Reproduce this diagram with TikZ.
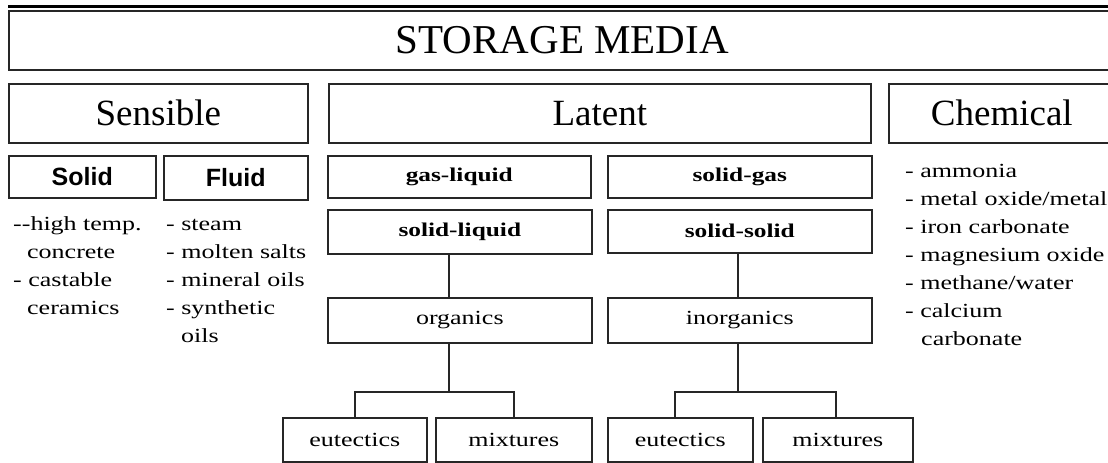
\documentclass[tikz,border=0pt]{standalone}
\usepackage{fontspec}
\setmainfont{Liberation Serif}
\newfontfamily\listfont[FakeStretch=1.3]{Liberation Serif}
\newfontfamily\tagfont{Liberation Sans}
\begin{document}
\begin{tikzpicture}[x=1pt,y=-1pt,
  frame/.style={draw=black!85, line width=1.6pt, inner sep=0pt, anchor=north west},
  wire/.style={draw=black!85, line width=1.6pt},
  bigtxt/.style={font=\fontsize{41}{45}\selectfont},
  headtxt/.style={font=\fontsize{37}{42}\selectfont},
  cattxt/.style={font=\listfont\bfseries\fontsize{19.5}{24}\selectfont},
  subtxt/.style={font=\listfont\fontsize{20}{24}\selectfont},
  tagtxt/.style={font=\tagfont\bfseries\fontsize{25}{30}\selectfont},
  item/.style={anchor=base west, inner sep=0pt, font=\listfont\fontsize{20}{24}\selectfont}]
\useasboundingbox (0,0) rectangle (1108,463);
\clip (0,0) rectangle (1108,463);
\fill[white] (0,0) rectangle (1108,463);

% top rule
\draw[line width=3.5pt] (8,6.5) -- (1110,6.5);

% title and the three families
\node[frame, bigtxt, minimum width=1107pt, minimum height=59pt] (title) at (8,10) {STORAGE MEDIA};
\node[frame, headtxt, minimum width=299pt, minimum height=59pt] (sens) at (8,83) {Sensible};
\node[frame, headtxt, minimum width=542pt, minimum height=59pt] (lat) at (328,83) {Latent};
\node[frame, headtxt, minimum width=226pt, minimum height=59pt] (chem) at (888,83) {Chemical};

% sensible
\node[frame, tagtxt, minimum width=147pt, minimum height=42pt] (solid) at (8,155) {Solid};
\node[frame, tagtxt, minimum width=144pt, minimum height=44pt] (fluid) at (163,155) {Fluid};

\node[item] (s1) at (13,230) {-{}-high temp.};
\node[item] (s2) at (27,258) {concrete};
\node[item] (s3) at (13,286) {- castable};
\node[item] (s4) at (27,314) {ceramics};

\node[item] (f1) at (166,230) {- steam};
\node[item] (f2) at (166,258) {- molten salts};
\node[item] (f3) at (166,286) {- mineral oils};
\node[item] (f4) at (166,314) {- synthetic};
\node[item] (f5) at (181,342) {oils};

% latent
\node[frame, cattxt, minimum width=263pt, minimum height=42pt] (gl) at (327,155) {gas-liquid};
\node[frame, cattxt, minimum width=264pt, minimum height=42pt] (sg) at (607,155) {solid-gas};
\node[frame, cattxt, minimum width=264pt, minimum height=44pt] (sl) at (327,209) {solid-liquid};
\node[frame, cattxt, minimum width=264pt, minimum height=43pt] (ss) at (607,209) {solid-solid};
\node[frame, subtxt, minimum width=264pt, minimum height=45pt] (org) at (327,297) {organics};
\node[frame, subtxt, minimum width=264pt, minimum height=45pt] (inorg) at (607,297) {inorganics};
\node[frame, subtxt, minimum width=144pt, minimum height=44pt] (eutL) at (282,417) {eutectics};
\node[frame, subtxt, minimum width=156pt, minimum height=44pt] (mixL) at (435,417) {mixtures};
\node[frame, subtxt, minimum width=145pt, minimum height=44pt] (eutR) at (607,417) {eutectics};
\node[frame, subtxt, minimum width=150pt, minimum height=44pt] (mixR) at (762,417) {mixtures};

\coordinate (busL) at (449,392);
\coordinate (busR) at (738,392);
\draw[wire] (sl.south -| busL) -- (org.north -| busL);
\draw[wire] (org.south -| busL) -- (busL);
\draw[wire] (eutL.north) |- (busL) -| (mixL.north);
\draw[wire] (ss.south -| busR) -- (inorg.north -| busR);
\draw[wire] (inorg.south -| busR) -- (busR);
\draw[wire] ([xshift=-5.5pt]eutR.north) |- (busR) -| ([xshift=-2pt]mixR.north);

% chemical
\node[item] (c1) at (905,177) {- ammonia};
\node[item] (c2) at (905,205) {- metal oxide/metal};
\node[item] (c3) at (905,233) {- iron carbonate};
\node[item] (c4) at (905,261) {- magnesium oxide};
\node[item] (c5) at (905,289) {- methane/water};
\node[item] (c6) at (905,317) {- calcium};
\node[item] (c7) at (921,345) {carbonate};
\end{tikzpicture}
\end{document}
